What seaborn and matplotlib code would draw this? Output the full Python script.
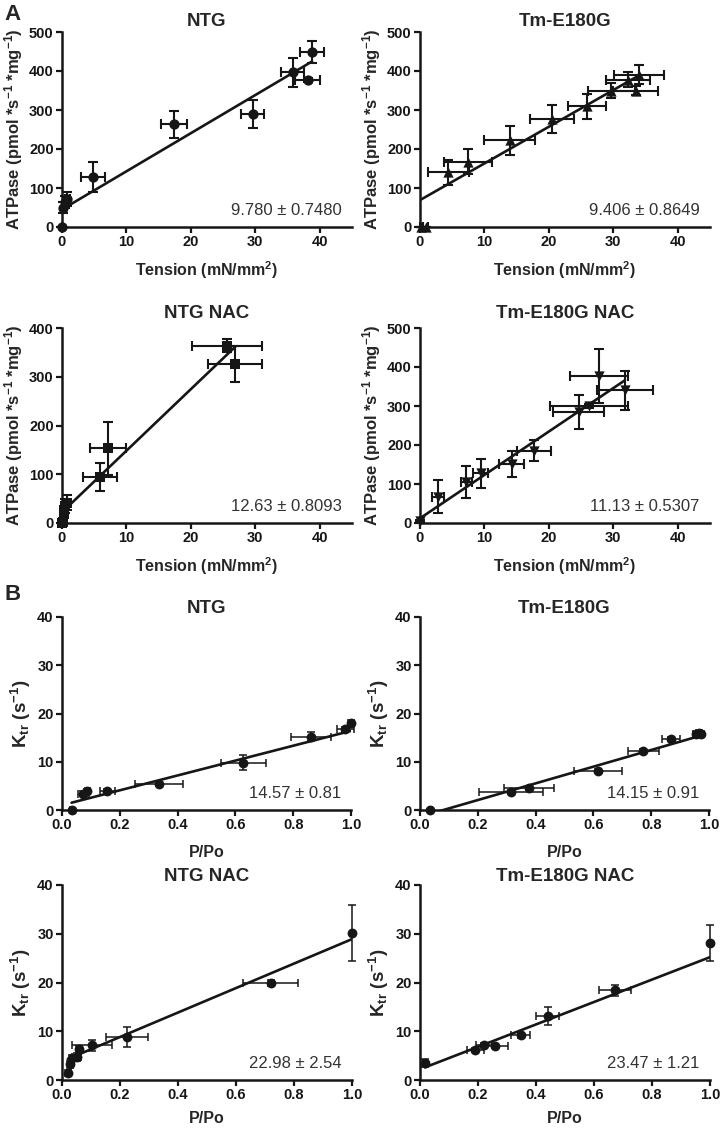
import numpy as np
import pandas as pd
import matplotlib
matplotlib.use("Agg")
import matplotlib.pyplot as plt
import seaborn as sns

# --- A: ATPase vs tension ---
ntg_tension = [0, 0.2, 0.5, 0.8, 4.8, 17.4, 29.6, 35.8, 38.1, 38.8]
ntg_tension_err = [0, 0.2, 0.3, 0.4, 1.8, 2.0, 1.8, 1.8, 1.9, 1.9]
ntg_atpase = [0, 50, 65, 72, 129, 263, 290, 397, 378, 449]
ntg_atpase_err = [0, 15, 15, 17, 38, 35, 36, 37, 5, 29]

tm_tension = [0.2, 0.9, 4.4, 7.5, 13.9, 20.5, 25.9, 29.7, 32.3, 34.0, 33.5]
tm_tension_err = [0.2, 0.4, 3.2, 3.7, 4.0, 3.4, 2.9, 3.7, 3.4, 3.9, 3.5]
tm_atpase = [0, 0, 140, 167, 222, 277, 309, 350, 378, 391, 350]
tm_atpase_err = [0, 0, 33, 32, 37, 37, 33, 19, 20, 25, 11]

ntg_nac_tension = [0, 0.1, 0.3, 0.5, 0.8, 5.9, 7.1, 25.6, 26.9]
ntg_nac_tension_err = [0, 0.1, 0.2, 0.3, 0.4, 2.6, 2.8, 5.5, 4.2]
ntg_nac_atpase = [0, 3, 22, 35, 42, 95, 153, 364, 327]
ntg_nac_atpase_err = [0, 3, 12, 15, 16, 29, 55, 13, 37]

tm_nac_tension = [0, 2.8, 7.2, 9.4, 14.2, 17.7, 24.6, 26.2, 27.8, 31.8]
tm_nac_tension_err = [0, 1.0, 0.85, 1.2, 1.9, 2.7, 4.0, 6.0, 4.5, 4.3]
tm_nac_atpase = [5, 67, 104, 127, 151, 185, 284, 300, 377, 341]
tm_nac_atpase_err = [2, 42, 41, 38, 34, 27, 44, 5, 70, 50]

# --- B: ktr vs P/Po ---
ntg_ppo = [0.033, 0.074, 0.088, 0.157, 0.335, 0.628, 0.862, 0.98, 1.0]
ntg_ppo_err = [0.005, 0.02, 0.01, 0.025, 0.084, 0.078, 0.07, 0.03, 0.005]
ntg_ktr = [0, 3.4, 3.9, 3.9, 5.4, 9.8, 15.2, 16.7, 18.1]
ntg_ktr_err = [0.2, 0.5, 0.5, 0.4, 0.4, 1.5, 0.9, 0.5, 0.6]

tm_ppo = [0.035, 0.315, 0.376, 0.617, 0.772, 0.869, 0.955, 0.965, 0.972]
tm_ppo_err = [0.005, 0.11, 0.087, 0.083, 0.054, 0.032, 0.01, 0.01, 0.01]
tm_ktr = [0.1, 3.7, 4.6, 8.0, 12.2, 14.7, 15.8, 15.9, 15.8]
tm_ktr_err = [0.2, 0.4, 0.4, 0.4, 0.4, 0.5, 0.4, 0.4, 0.4]

ntg_nac_ppo = [0.02, 0.029, 0.035, 0.05, 0.06, 0.104, 0.224, 0.72, 1.0]
ntg_nac_ppo_err = [0.003, 0.005, 0.005, 0.017, 0.01, 0.068, 0.072, 0.095, 0.003]
ntg_nac_ktr = [1.4, 3.2, 4.6, 4.8, 6.3, 7.1, 8.8, 19.9, 30.2]
ntg_nac_ktr_err = [0.6, 0.8, 0.5, 0.8, 0.6, 1.1, 2.0, 0.7, 5.7]

tm_nac_ppo = [0.017, 0.19, 0.22, 0.26, 0.347, 0.441, 0.672, 1.0]
tm_nac_ppo_err = [0.005, 0.029, 0.028, 0.042, 0.033, 0.04, 0.055, 0.003]
tm_nac_ktr = [3.5, 6.1, 7.1, 7.0, 9.2, 13.1, 18.4, 28.1]
tm_nac_ktr_err = [0.8, 0.4, 0.5, 0.4, 0.5, 1.9, 1.1, 3.6]

# linear fits (slope, intercept) as drawn
fit_a = [(9.78, 45), (9.406, 69), (12.63, 22), (11.13, 12)]
fit_b = [(15.4, 1.0), (17.3, -1.4), (25.1, 3.8), (23.0, 2.2)]

slope_text_a = ["9.780 ± 0.7480", "9.406 ± 0.8649", "12.63 ± 0.8093", "11.13 ± 0.5307"]
slope_text_b = ["14.57 ± 0.81", "14.15 ± 0.91", "22.98 ± 2.54", "23.47 ± 1.21"]
titles = ["NTG", "Tm-E180G", "NTG NAC", "Tm-E180G NAC"]

sns.set_style("ticks")
plt.rcParams["font.family"] = ["Liberation Sans", "DejaVu Sans"]
plt.rcParams["font.weight"] = "bold"
plt.rcParams["axes.labelweight"] = "bold"
plt.rcParams["axes.titleweight"] = "bold"
plt.rcParams["mathtext.fontset"] = "custom"
plt.rcParams["mathtext.rm"] = "Liberation Sans:bold"
plt.rcParams["mathtext.default"] = "regular"

INK = "#161616"
fig = plt.figure(figsize=(7.2, 11.31), dpi=100)

W, H = 720, 1131
def rect(left, bottom_px, width, height):
    return [left / W, (H - bottom_px) / H, width / W, height / H]


def panel(r, x, xe, y, ye, marker, fit, title, note, ylim, yticks,
          xlim, xticks, xlabel, ylabel, ms, elw, cap, ylsize, tpad, xpad, xfmt=None):
    ax = fig.add_axes(r)
    ax.errorbar(x, y, xerr=xe, yerr=ye, fmt="none", ecolor=INK,
                elinewidth=elw, capsize=cap, capthick=elw, clip_on=False, zorder=2)
    df = pd.DataFrame({"x": x, "y": y})
    sns.scatterplot(data=df, x="x", y="y", marker=marker, s=ms, color=INK,
                    edgecolor=INK, linewidth=0, ax=ax, clip_on=False, zorder=3)
    xs = np.array([min(x), max(x)])
    ax.plot(xs, fit[0] * xs + fit[1], color=INK, lw=1.9, zorder=2.5)
    ax.set_xlim(*xlim)
    ax.set_ylim(*ylim)
    ax.set_xticks(xticks)
    ax.set_yticks(yticks)
    if xfmt:
        ax.set_xticklabels([xfmt.format(v) for v in xticks])
    ax.set_xlabel(xlabel, fontsize=11.5, labelpad=xpad)
    ax.set_ylabel(ylabel, fontsize=ylsize, labelpad=3)
    ax.set_title(title, fontsize=13.5, pad=tpad)
    ax.text(0.965, 0.045, note, transform=ax.transAxes, ha="right", va="bottom",
            fontsize=12, fontweight="normal", color="#333333")
    sns.despine(ax=ax)
    for s in ("left", "bottom"):
        ax.spines[s].set_linewidth(1.8)
        ax.spines[s].set_color(INK)
    ax.tick_params(direction="out", length=4, width=1.6, colors=INK, labelsize=10.5, pad=2)
    return ax


atp_label = "ATPase (pmol *s$^{-1}$ *mg$^{-1}$)"
ten_label = "Tension (mN/mm$^{2}$)"
ktr_label = "K$_{tr}$ (s$^{-1}$)"
ten_ticks = [0, 10, 20, 30, 40]
ppo_ticks = [0, 0.2, 0.4, 0.6, 0.8, 1.0]

panel(rect(62, 227, 290, 195), ntg_tension, ntg_tension_err, ntg_atpase, ntg_atpase_err,
      "o", fit_a[0], titles[0], slope_text_a[0], (0, 500), range(0, 501, 100),
      (0, 45), ten_ticks, ten_label, atp_label, 55, 1.5, 3.5, 12, 4, 7)
panel(rect(420, 227, 290, 195), tm_tension, tm_tension_err, tm_atpase, tm_atpase_err,
      "^", fit_a[1], titles[1], slope_text_a[1], (0, 500), range(0, 501, 100),
      (0, 45), ten_ticks, ten_label, atp_label, 55, 1.5, 3.5, 12, 4, 7)
panel(rect(62, 523, 290, 195), ntg_nac_tension, ntg_nac_tension_err, ntg_nac_atpase,
      ntg_nac_atpase_err, "s", fit_a[2], titles[2], slope_text_a[2], (0, 400),
      range(0, 401, 100), (0, 45), ten_ticks, ten_label, atp_label, 48, 1.5, 3.5, 12, 7, 7)
panel(rect(420, 523, 290, 195), tm_nac_tension, tm_nac_tension_err, tm_nac_atpase,
      tm_nac_atpase_err, "v", fit_a[3], titles[3], slope_text_a[3], (0, 500),
      range(0, 501, 100), (0, 45), ten_ticks, ten_label, atp_label, 55, 1.5, 3.5, 12, 7, 7)

panel(rect(62, 810, 289, 193), ntg_ppo, ntg_ppo_err, ntg_ktr, ntg_ktr_err,
      "o", fit_b[0], titles[0], slope_text_b[0], (0, 40), range(0, 41, 10),
      (0, 1), ppo_ticks, "P/Po", ktr_label, 50, 1.1, 3, 13.5, -2, 9, "{:.1f}")
panel(rect(420, 810, 289, 193), tm_ppo, tm_ppo_err, tm_ktr, tm_ktr_err,
      "o", fit_b[1], titles[1], slope_text_b[1], (0, 40), range(0, 41, 10),
      (0, 1), ppo_ticks, "P/Po", ktr_label, 50, 1.1, 3, 13.5, -2, 9, "{:.1f}")
panel(rect(62, 1080, 290, 195), ntg_nac_ppo, ntg_nac_ppo_err, ntg_nac_ktr, ntg_nac_ktr_err,
      "o", fit_b[2], titles[2], slope_text_b[2], (0, 40), range(0, 41, 10),
      (0, 1), ppo_ticks, "P/Po", ktr_label, 50, 1.1, 3, 13.5, -1, 6, "{:.1f}")
panel(rect(420, 1080, 290, 195), tm_nac_ppo, tm_nac_ppo_err, tm_nac_ktr, tm_nac_ktr_err,
      "o", fit_b[3], titles[3], slope_text_b[3], (0, 40), range(0, 41, 10),
      (0, 1), ppo_ticks, "P/Po", ktr_label, 50, 1.1, 3, 13.5, -1, 6, "{:.1f}")

fig.text(4 / W, 1 - 14 / H, "A", fontsize=16, fontweight="bold", va="center", ha="left")
fig.text(4 / W, 1 - 595 / H, "B", fontsize=16, fontweight="bold", va="center", ha="left")

fig.savefig("out.png", dpi=100)
